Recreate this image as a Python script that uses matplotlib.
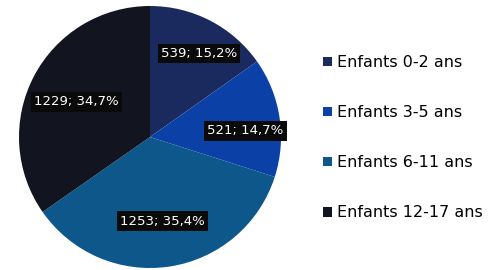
import matplotlib
matplotlib.use("Agg")
from matplotlib import pyplot as plt
import numpy as np

categories = ["Enfants 0-2 ans", "Enfants 3-5 ans", "Enfants 6-11 ans", "Enfants 12-17 ans"]
values = [539, 521, 1253, 1229]
percents = ["15,2%", "14,7%", "35,4%", "34,7%"]
colors = ["#1b2a5e", "#0b41a6", "#0d578a", "#121520"]

W, H = 488, 270
fig = plt.figure(figsize=(W / 100, H / 100), dpi=100)
fig.patch.set_facecolor("white")

# pie centre (150, 137) px, radius 131 px
cx, cy, r = 150, 137, 131
ax = fig.add_axes([(cx - r) / W, (H - cy - r) / H, 2 * r / W, 2 * r / H])
wedges, _ = ax.pie(values, colors=colors, startangle=90, counterclock=False,
                   wedgeprops=dict(linewidth=0))
ax.set_xlim(-1, 1)
ax.set_ylim(-1, 1)
ax.set_aspect("equal")
ax.axis("off")

# label radius (fraction of pie radius) and angle shift per wedge
label_r = [0.74, 0.73, 0.65, 0.62]
label_da = [-3, -5, 0, 2]
for w, v, p, lr, da in zip(wedges, values, percents, label_r, label_da):
    ang = np.deg2rad((w.theta1 + w.theta2) / 2 + da)
    ax.text(lr * np.cos(ang), lr * np.sin(ang), "%d; %s" % (v, p),
            ha="center", va="center", color="white", fontsize=9.5,
            family="DejaVu Sans",
            bbox=dict(boxstyle="square,pad=0.25", fc="#0a0a0a", ec="none"))

# legend
handles = [plt.Rectangle((0, 0), 1, 1, fc=c, ec="none") for c in colors]
leg = fig.legend(handles, categories, loc="upper left",
                 bbox_to_anchor=(315 / W, 1 - 47 / H), frameon=False,
                 fontsize=11.5, handlelength=0.55, handleheight=0.55,
                 handletextpad=0.3, labelspacing=2.2, borderpad=0)

fig.savefig("out.png", dpi=100)
